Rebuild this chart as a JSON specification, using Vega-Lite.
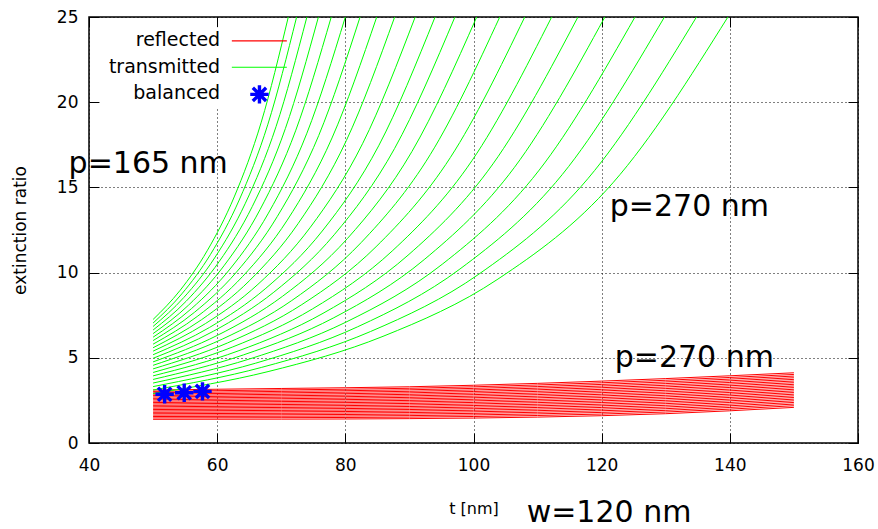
{
  "$schema": "https://vega.github.io/schema/vega-lite/v6.json",
  "width": 769,
  "height": 426,
  "autosize": {"type": "none"},
  "padding": {"left": 89, "top": 17, "right": 20, "bottom": 86},
  "background": "white",
  "config": {
    "view": {"stroke": "#000", "strokeWidth": 1.5},
    "font": "DejaVu Sans"
  },
  "datasets": {
    "green": [
      {"p":165,"t":50,"er":7.25},{"p":165,"t":54.22,"er":8.96},{"p":165,"t":58.44,"er":11.28},{"p":165,"t":62.66,"er":14.44},{"p":165,"t":66.88,"er":18.83},{"p":165,"t":71.1,"er":25},
      {"p":170,"t":50,"er":7.04},{"p":170,"t":54.48,"er":8.75},{"p":170,"t":58.96,"er":11.07},{"p":170,"t":63.44,"er":14.26},{"p":170,"t":67.92,"er":18.71},{"p":170,"t":72.4,"er":25},
      {"p":175,"t":50,"er":6.84},{"p":175,"t":54.8,"er":8.54},{"p":175,"t":59.6,"er":10.86},{"p":175,"t":64.4,"er":14.07},{"p":175,"t":69.2,"er":18.58},{"p":175,"t":74,"er":25},
      {"p":180,"t":50,"er":6.63},{"p":180,"t":55.16,"er":8.32},{"p":180,"t":60.32,"er":10.65},{"p":180,"t":65.48,"er":13.88},{"p":180,"t":70.64,"er":18.45},{"p":180,"t":75.8,"er":25},
      {"p":185,"t":50,"er":6.42},{"p":185,"t":55.56,"er":8.10},{"p":185,"t":61.12,"er":10.43},{"p":185,"t":66.68,"er":13.69},{"p":185,"t":72.24,"er":18.32},{"p":185,"t":77.8,"er":25},
      {"p":190,"t":50,"er":6.21},{"p":190,"t":56,"er":7.89},{"p":190,"t":62,"er":10.21},{"p":190,"t":68,"er":13.49},{"p":190,"t":74,"er":18.18},{"p":190,"t":80,"er":25},
      {"p":195,"t":50,"er":6.01},{"p":195,"t":56.46,"er":7.67},{"p":195,"t":62.92,"er":9.99},{"p":195,"t":69.38,"er":13.29},{"p":195,"t":75.84,"er":18.04},{"p":195,"t":82.3,"er":25},
      {"p":200,"t":50,"er":5.80},{"p":200,"t":56.98,"er":7.45},{"p":200,"t":63.96,"er":9.77},{"p":200,"t":70.94,"er":13.08},{"p":200,"t":77.92,"er":17.90},{"p":200,"t":84.9,"er":25},
      {"p":205,"t":50,"er":5.59},{"p":205,"t":57.54,"er":7.23},{"p":205,"t":65.08,"er":9.54},{"p":205,"t":72.62,"er":12.87},{"p":205,"t":80.16,"er":17.75},{"p":205,"t":87.7,"er":25},
      {"p":210,"t":50,"er":5.39},{"p":210,"t":58.18,"er":7.01},{"p":210,"t":66.36,"er":9.31},{"p":210,"t":74.54,"er":12.66},{"p":210,"t":82.72,"er":17.59},{"p":210,"t":90.9,"er":25},
      {"p":215,"t":50,"er":5.18},{"p":215,"t":58.8,"er":6.78},{"p":215,"t":67.6,"er":9.08},{"p":215,"t":76.4,"er":12.44},{"p":215,"t":85.2,"er":17.44},{"p":215,"t":94,"er":25},
      {"p":220,"t":50,"er":4.97},{"p":220,"t":59.42,"er":6.56},{"p":220,"t":68.84,"er":8.85},{"p":220,"t":78.26,"er":12.22},{"p":220,"t":87.68,"er":17.28},{"p":220,"t":97.1,"er":25},
      {"p":225,"t":50,"er":4.76},{"p":225,"t":60.1,"er":6.33},{"p":225,"t":70.2,"er":8.61},{"p":225,"t":80.3,"er":11.99},{"p":225,"t":90.4,"er":17.11},{"p":225,"t":100.5,"er":25},
      {"p":230,"t":50,"er":4.56},{"p":230,"t":60.82,"er":6.10},{"p":230,"t":71.64,"er":8.36},{"p":230,"t":82.46,"er":11.76},{"p":230,"t":93.28,"er":16.94},{"p":230,"t":104.1,"er":25},
      {"p":235,"t":50,"er":4.35},{"p":235,"t":61.6,"er":5.87},{"p":235,"t":73.2,"er":8.12},{"p":235,"t":84.8,"er":11.52},{"p":235,"t":96.4,"er":16.76},{"p":235,"t":108,"er":25},
      {"p":240,"t":50,"er":4.14},{"p":240,"t":62.44,"er":5.64},{"p":240,"t":74.88,"er":7.87},{"p":240,"t":87.32,"er":11.27},{"p":240,"t":99.76,"er":16.57},{"p":240,"t":112.2,"er":25},
      {"p":245,"t":50,"er":3.94},{"p":245,"t":63.26,"er":5.40},{"p":245,"t":76.52,"er":7.61},{"p":245,"t":89.78,"er":11.02},{"p":245,"t":103.04,"er":16.38},{"p":245,"t":116.3,"er":25},
      {"p":250,"t":50,"er":3.73},{"p":250,"t":64.1,"er":5.17},{"p":250,"t":78.2,"er":7.35},{"p":250,"t":92.3,"er":10.76},{"p":250,"t":106.4,"er":16.18},{"p":250,"t":120.5,"er":25},
      {"p":255,"t":50,"er":3.52},{"p":255,"t":65.04,"er":4.93},{"p":255,"t":80.08,"er":7.09},{"p":255,"t":95.12,"er":10.49},{"p":255,"t":110.16,"er":15.97},{"p":255,"t":125.2,"er":25},
      {"p":260,"t":50,"er":3.31},{"p":260,"t":65.96,"er":4.68},{"p":260,"t":81.92,"er":6.82},{"p":260,"t":97.88,"er":10.21},{"p":260,"t":113.84,"er":15.75},{"p":260,"t":129.8,"er":25},
      {"p":265,"t":50,"er":3.11},{"p":265,"t":66.96,"er":4.44},{"p":265,"t":83.92,"er":6.54},{"p":265,"t":100.88,"er":9.92},{"p":265,"t":117.84,"er":15.51},{"p":265,"t":134.8,"er":25},
      {"p":270,"t":50,"er":2.90},{"p":270,"t":67.94,"er":4.19},{"p":270,"t":85.88,"er":6.26},{"p":270,"t":103.82,"er":9.62},{"p":270,"t":121.76,"er":15.27},{"p":270,"t":139.7,"er":25}
    ],
    "red": [
      {"p":165,"t":50,"er":1.390},{"p":165,"t":70,"er":1.400},{"p":165,"t":90,"er":1.430},{"p":165,"t":110,"er":1.520},{"p":165,"t":130,"er":1.720},{"p":165,"t":150,"er":2.090},
      {"p":170,"t":50,"er":1.472},{"p":170,"t":70,"er":1.486},{"p":170,"t":90,"er":1.519},{"p":170,"t":110,"er":1.614},{"p":170,"t":130,"er":1.818},{"p":170,"t":150,"er":2.187},
      {"p":175,"t":50,"er":1.554},{"p":175,"t":70,"er":1.571},{"p":175,"t":90,"er":1.608},{"p":175,"t":110,"er":1.709},{"p":175,"t":130,"er":1.916},{"p":175,"t":150,"er":2.283},
      {"p":180,"t":50,"er":1.636},{"p":180,"t":70,"er":1.657},{"p":180,"t":90,"er":1.697},{"p":180,"t":110,"er":1.803},{"p":180,"t":130,"er":2.014},{"p":180,"t":150,"er":2.380},
      {"p":185,"t":50,"er":1.718},{"p":185,"t":70,"er":1.743},{"p":185,"t":90,"er":1.786},{"p":185,"t":110,"er":1.897},{"p":185,"t":130,"er":2.112},{"p":185,"t":150,"er":2.477},
      {"p":190,"t":50,"er":1.800},{"p":190,"t":70,"er":1.829},{"p":190,"t":90,"er":1.875},{"p":190,"t":110,"er":1.991},{"p":190,"t":130,"er":2.211},{"p":190,"t":150,"er":2.573},
      {"p":195,"t":50,"er":1.881},{"p":195,"t":70,"er":1.914},{"p":195,"t":90,"er":1.964},{"p":195,"t":110,"er":2.086},{"p":195,"t":130,"er":2.309},{"p":195,"t":150,"er":2.670},
      {"p":200,"t":50,"er":1.963},{"p":200,"t":70,"er":2.000},{"p":200,"t":90,"er":2.053},{"p":200,"t":110,"er":2.180},{"p":200,"t":130,"er":2.407},{"p":200,"t":150,"er":2.767},
      {"p":205,"t":50,"er":2.045},{"p":205,"t":70,"er":2.086},{"p":205,"t":90,"er":2.142},{"p":205,"t":110,"er":2.274},{"p":205,"t":130,"er":2.505},{"p":205,"t":150,"er":2.863},
      {"p":210,"t":50,"er":2.127},{"p":210,"t":70,"er":2.171},{"p":210,"t":90,"er":2.231},{"p":210,"t":110,"er":2.369},{"p":210,"t":130,"er":2.603},{"p":210,"t":150,"er":2.960},
      {"p":215,"t":50,"er":2.209},{"p":215,"t":70,"er":2.257},{"p":215,"t":90,"er":2.321},{"p":215,"t":110,"er":2.463},{"p":215,"t":130,"er":2.701},{"p":215,"t":150,"er":3.057},
      {"p":220,"t":50,"er":2.291},{"p":220,"t":70,"er":2.343},{"p":220,"t":90,"er":2.410},{"p":220,"t":110,"er":2.557},{"p":220,"t":130,"er":2.799},{"p":220,"t":150,"er":3.153},
      {"p":225,"t":50,"er":2.373},{"p":225,"t":70,"er":2.429},{"p":225,"t":90,"er":2.499},{"p":225,"t":110,"er":2.651},{"p":225,"t":130,"er":2.897},{"p":225,"t":150,"er":3.250},
      {"p":230,"t":50,"er":2.455},{"p":230,"t":70,"er":2.514},{"p":230,"t":90,"er":2.588},{"p":230,"t":110,"er":2.746},{"p":230,"t":130,"er":2.995},{"p":230,"t":150,"er":3.347},
      {"p":235,"t":50,"er":2.537},{"p":235,"t":70,"er":2.600},{"p":235,"t":90,"er":2.677},{"p":235,"t":110,"er":2.840},{"p":235,"t":130,"er":3.093},{"p":235,"t":150,"er":3.443},
      {"p":240,"t":50,"er":2.619},{"p":240,"t":70,"er":2.686},{"p":240,"t":90,"er":2.766},{"p":240,"t":110,"er":2.934},{"p":240,"t":130,"er":3.192},{"p":240,"t":150,"er":3.540},
      {"p":245,"t":50,"er":2.700},{"p":245,"t":70,"er":2.771},{"p":245,"t":90,"er":2.855},{"p":245,"t":110,"er":3.029},{"p":245,"t":130,"er":3.290},{"p":245,"t":150,"er":3.637},
      {"p":250,"t":50,"er":2.782},{"p":250,"t":70,"er":2.857},{"p":250,"t":90,"er":2.944},{"p":250,"t":110,"er":3.123},{"p":250,"t":130,"er":3.388},{"p":250,"t":150,"er":3.733},
      {"p":255,"t":50,"er":2.864},{"p":255,"t":70,"er":2.943},{"p":255,"t":90,"er":3.033},{"p":255,"t":110,"er":3.217},{"p":255,"t":130,"er":3.486},{"p":255,"t":150,"er":3.830},
      {"p":260,"t":50,"er":2.946},{"p":260,"t":70,"er":3.028},{"p":260,"t":90,"er":3.122},{"p":260,"t":110,"er":3.311},{"p":260,"t":130,"er":3.584},{"p":260,"t":150,"er":3.927},
      {"p":265,"t":50,"er":3.028},{"p":265,"t":70,"er":3.114},{"p":265,"t":90,"er":3.211},{"p":265,"t":110,"er":3.406},{"p":265,"t":130,"er":3.682},{"p":265,"t":150,"er":4.023},
      {"p":270,"t":50,"er":3.110},{"p":270,"t":70,"er":3.200},{"p":270,"t":90,"er":3.300},{"p":270,"t":110,"er":3.500},{"p":270,"t":130,"er":3.780},{"p":270,"t":150,"er":4.120}
    ],
    "stars": [
      {"t":51.8,"er":2.86},{"t":54.86,"er":2.95},{"t":57.71,"er":3.03},{"t":66.6,"er":20.46}
    ],
    "notes": [
      {"t":36.82,"er":15.83,"text":"p=165 nm"},
      {"t":121.27,"er":13.35,"text":"p=270 nm"},
      {"t":122.04,"er":4.48,"text":"p=270 nm"},
      {"t":108.3,"er":-4.62,"text":"w=120 nm"}
    ],
    "leg": [
      {"t":60.47,"er":23.63,"text":"reflected"},
      {"t":60.47,"er":22.08,"text":"transmitted"},
      {"t":60.47,"er":20.56,"text":"balanced"}
    ],
    "keys": [
      {"t":62.29,"t2":70.87,"er":23.6,"c":"#ff0000"},
      {"t":62.29,"t2":70.87,"er":22.05,"c":"#00ff00"}
    ],
    "mask": [
      {"t":41.7,"t2":72.6,"er":19.7,"er2":24.4}
    ]
  },
  "resolve": {"axis": {"x": "independent", "y": "independent"}},
  "layer": [
    {
      "data": {"name": "mask"},
      "mark": {"type": "rect", "color": "white", "strokeWidth": 0},
      "encoding": {
        "x": {"field": "t", "type": "quantitative", "scale": {"domain": [40, 160], "nice": false}, "axis": {
          "orient": "bottom", "values": [40,60,80,100,120,140,160], "tickSize": -10, "tickColor": "#000", "tickWidth": 1,
          "labelPadding": 24, "labelFontSize": 17, "labelFont": "DejaVu Sans", "labelColor": "#000", "labelFlush": false,
          "grid": true, "gridDash": [1, 3], "gridColor": "#000", "gridOpacity": 1, "gridWidth": 1, "domain": false,
          "title": "t [nm]", "titleFont": "DejaVu Sans", "titleFontSize": 16, "titleFontWeight": "normal", "titleColor": "#000",
          "titleY": 65, "titleBaseline": "middle"}},
        "x2": {"field": "t2"},
        "y": {"field": "er", "type": "quantitative", "scale": {"domain": [0, 25], "nice": false}, "axis": {
          "orient": "left", "values": [0,5,10,15,20,25], "tickSize": -10, "tickColor": "#000", "tickWidth": 1,
          "labelPadding": 21, "labelFontSize": 17, "labelFont": "DejaVu Sans", "labelColor": "#000", "labelFlush": false,
          "grid": true, "gridDash": [1, 3], "gridColor": "#000", "gridOpacity": 1, "gridWidth": 1, "domain": false,
          "title": "extinction ratio", "titleFont": "DejaVu Sans", "titleFontSize": 17, "titleFontWeight": "normal", "titleColor": "#000",
          "titleX": -69, "titleY": 213, "titleAlign": "center", "titleBaseline": "middle"}},
        "y2": {"field": "er2"}
      }
    },
    {
      "data": {"name": "red"},
      "mark": {"type": "line", "color": "#ff0000", "strokeWidth": 1, "interpolate": "monotone"},
      "encoding": {
        "x": {"field": "t", "type": "quantitative", "scale": {"domain": [40, 160], "nice": false}, "axis": {
          "orient": "top", "values": [40,60,80,100,120,140,160], "tickSize": -10, "tickColor": "#000", "tickWidth": 1,
          "labels": false, "grid": false, "domain": false, "title": null}},
        "y": {"field": "er", "type": "quantitative", "scale": {"domain": [0, 25], "nice": false}, "axis": {
          "orient": "right", "values": [0,5,10,15,20,25], "tickSize": -10, "tickColor": "#000", "tickWidth": 1,
          "labels": false, "grid": false, "domain": false, "title": null}},
        "detail": {"field": "p", "type": "nominal"}
      }
    },
    {
      "data": {"name": "green"},
      "mark": {"type": "line", "color": "#00ff00", "strokeWidth": 1, "interpolate": "monotone"},
      "encoding": {
        "x": {"field": "t", "type": "quantitative", "axis": null},
        "y": {"field": "er", "type": "quantitative", "axis": null},
        "detail": {"field": "p", "type": "nominal"}
      }
    },
    {
      "data": {"name": "keys"},
      "mark": {"type": "rule", "strokeWidth": 1.2},
      "encoding": {
        "x": {"field": "t", "type": "quantitative", "axis": null},
        "x2": {"field": "t2"},
        "y": {"field": "er", "type": "quantitative", "axis": null},
        "color": {"field": "c", "type": "nominal", "scale": null}
      }
    },
    {
      "data": {"name": "stars"},
      "mark": {"type": "point", "shape": "M-1,0L1,0M0,-1L0,1M-0.72,-0.72L0.72,0.72M-0.72,0.72L0.72,-0.72", "filled": false, "color": "#0000ff", "strokeWidth": 3.4, "size": 340, "opacity": 1},
      "encoding": {
        "x": {"field": "t", "type": "quantitative", "axis": null},
        "y": {"field": "er", "type": "quantitative", "axis": null}
      }
    },
    {
      "data": {"name": "notes"},
      "mark": {"type": "text", "align": "left", "baseline": "alphabetic", "font": "DejaVu Sans", "fontSize": 30, "color": "#000"},
      "encoding": {
        "x": {"field": "t", "type": "quantitative", "axis": null},
        "y": {"field": "er", "type": "quantitative", "axis": null},
        "text": {"field": "text"}
      }
    },
    {
      "data": {"name": "leg"},
      "mark": {"type": "text", "align": "right", "baseline": "middle", "font": "DejaVu Sans", "fontSize": 19, "color": "#000"},
      "encoding": {
        "x": {"field": "t", "type": "quantitative", "axis": null},
        "y": {"field": "er", "type": "quantitative", "axis": null},
        "text": {"field": "text"}
      }
    }
  ]
}
